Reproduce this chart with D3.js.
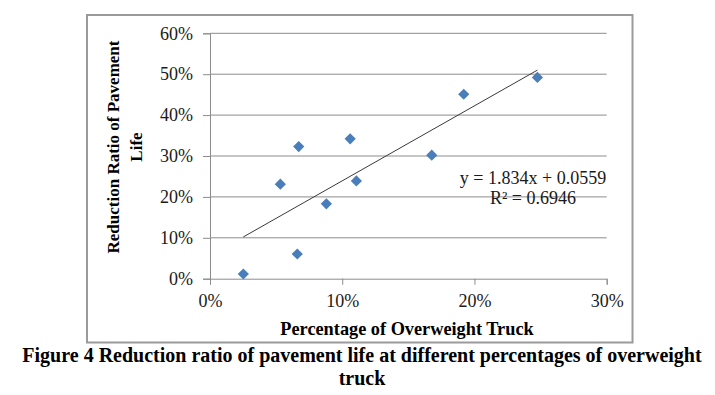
<!DOCTYPE html>
<meta charset="utf-8">
<script src="https://d3js.org/d3.v7.min.js"></script>
<style>
body { margin: 0; background: #fff; }
svg text { font-family: "Liberation Serif", "Times New Roman", serif; }
</style>
<svg id="chart" width="715" height="395"></svg>
<script>
// data
const overweight = [0.0252, 0.0532, 0.0671, 0.0660, 0.0880, 0.1060, 0.1107, 0.1677, 0.1919, 0.2476]
const reduction  = [0.0115, 0.2310, 0.3230, 0.0604, 0.1830, 0.3420, 0.2390, 0.3020, 0.4510, 0.4920]
const xTicks = [0, 0.1, 0.2, 0.3]
const yTicks = [0, 0.1, 0.2, 0.3, 0.4, 0.5, 0.6]
const slope = 1.834, intercept = 0.0559
const eqText = ["y = 1.834x + 0.0559", "R² = 0.6946"]

const svg = d3.select("#chart")

const x = d3.scaleLinear().domain([0, 0.3]).range([210, 606.7])
const y = d3.scaleLinear().domain([0, 0.6]).range([278.7, 33.3])
const pct = d3.format(".0%")

// outer frame
svg.append("rect")
  .attr("x", 87).attr("y", 15)
  .attr("width", 545.5).attr("height", 327.5)
  .attr("fill", "none")
  .attr("stroke", "#9a9a9a")
  .attr("stroke-width", 2)

// gridlines
svg.append("g")
  .selectAll("line")
  .data(yTicks.slice(1))
  .join("line")
    .attr("x1", x(0)).attr("x2", x(0.3))
    .attr("y1", d => y(d)).attr("y2", d => y(d))
    .attr("stroke", "#8c8c8c")
    .attr("stroke-width", 1)

// y axis
const yAxis = svg.append("g")
  .attr("transform", `translate(${x(0)},0)`)
  .call(d3.axisLeft(y).tickValues(yTicks).tickFormat(pct).tickSize(7).tickPadding(10))
yAxis.select(".domain").attr("stroke", "#8c8c8c")
yAxis.selectAll(".tick line").attr("stroke", "#8c8c8c")
yAxis.selectAll("text")
  .style("font-family", "Liberation Serif")
  .style("font-size", "18px")
  .attr("fill", "#1a1a1a")

// x axis
const xAxis = svg.append("g")
  .attr("transform", `translate(0,${y(0)})`)
  .call(d3.axisBottom(x).tickValues(xTicks).tickFormat(pct).tickSize(6).tickPadding(10))
xAxis.select(".domain").attr("stroke", "#8c8c8c")
xAxis.selectAll(".tick line").attr("stroke", "#8c8c8c")
xAxis.selectAll("text")
  .style("font-family", "Liberation Serif")
  .style("font-size", "18px")
  .attr("fill", "#1a1a1a")

// trendline over the data range
const xExt = d3.extent(overweight)
svg.append("line")
  .attr("x1", x(xExt[0])).attr("y1", y(slope * xExt[0] + intercept))
  .attr("x2", x(xExt[1])).attr("y2", y(slope * xExt[1] + intercept))
  .attr("stroke", "#3a3a3a")
  .attr("stroke-width", 1)

// diamond markers
svg.append("g")
  .selectAll("path")
  .data(overweight.map((d, i) => [d, reduction[i]]))
  .join("path")
    .attr("transform", d => `translate(${x(d[0])},${y(d[1])})`)
    .attr("d", "M0,-5.6L5.6,0L0,5.6L-5.6,0Z")
    .attr("fill", "#4a7ebb")

// equation
svg.append("g")
  .selectAll("text")
  .data(eqText)
  .join("text")
    .attr("x", 533)
    .attr("y", (d, i) => 184 + i * 20)
    .attr("text-anchor", "middle")
    .style("font-size", "18px")
    .attr("fill", "#1a1a1a")
    .text(d => d)

// axis titles
svg.append("text")
  .attr("x", 407).attr("y", 335)
  .attr("text-anchor", "middle")
  .style("font-weight", "bold")
  .style("font-size", "18.3px")
  .text("Percentage of Overweight Truck")

svg.append("g")
  .attr("transform", "translate(0,147) rotate(-90)")
  .selectAll("text")
  .data(["Reduction Ratio of Pavement", "Life"])
  .join("text")
    .attr("x", 0)
    .attr("y", (d, i) => 119 + i * 23)
    .attr("text-anchor", "middle")
    .style("font-weight", "bold")
    .style("font-size", "17px")
    .text(d => d)

// caption
svg.append("g")
  .selectAll("text")
  .data(["Figure 4 Reduction ratio of pavement life at different percentages of overweight", "truck"])
  .join("text")
    .attr("x", 362)
    .attr("y", (d, i) => 362 + i * 23)
    .attr("text-anchor", "middle")
    .style("font-weight", "bold")
    .style("font-size", "20px")
    .text(d => d)
</script>
